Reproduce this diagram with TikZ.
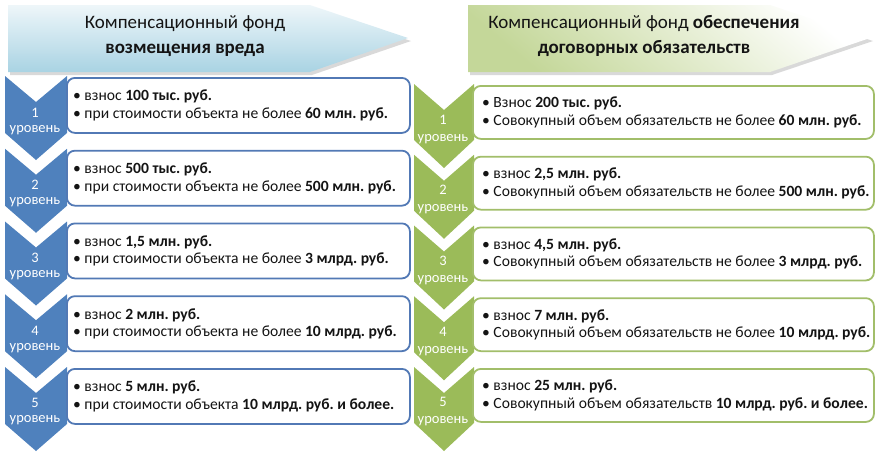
\documentclass[tikz,border=0pt]{standalone}
\usepackage{fontspec}
\setmainfont{Carlito}
\frenchspacing
\definecolor{chevblue}{HTML}{4F81BD}
\definecolor{bordblue}{HTML}{5279B5}
\definecolor{chevgreen}{HTML}{9BBB59}
\definecolor{bordgreen}{HTML}{A2BE6A}
\definecolor{hdrblue}{HTML}{A9D3E3}
\definecolor{hdrgreen}{HTML}{C4D799}
\definecolor{txt}{HTML}{141414}
\begin{document}
\begin{tikzpicture}[x=1pt,y=-1pt,
  lbox/.style={draw=bordblue,line width=1.8pt,fill=white,rounded corners=8pt,
    anchor=north west,minimum height=55pt,minimum width=343pt,inner sep=0pt},
  rbox/.style={draw=bordgreen,line width=1.8pt,fill=white,rounded corners=8pt,
    anchor=north west,minimum height=53pt,minimum width=401pt,inner sep=0pt},
  btext/.style={anchor=west,align=left,inner sep=0pt,font=\fontsize{15.6}{17.5}\selectfont,text=txt},
  lvl/.style={text=white,align=center,inner sep=0pt,font=\fontsize{14.5}{15}\selectfont},
  rlvl/.style={text=white,align=center,inner sep=0pt,font=\fontsize{14.5}{17}\selectfont},
  hdr/.style={align=center,inner sep=0pt,text=txt,font=\fontsize{19}{25}\selectfont}]
\useasboundingbox (0,0) rectangle (876,456);
% headers
\fill[black,opacity=0.15] (10,8) -- (312,8) -- (411,41) -- (312,75) -- (10,75) -- cycle;
\shade[top color=white!80!hdrblue,bottom color=hdrblue]
  (8,5) -- (310,5) -- (408,38) -- (310,72) -- (8,72) -- cycle;
\node[hdr] (h1) at (185,36) {Компенсационный фонд\\\textbf{возмещения вреда}};
\fill[black,opacity=0.15] (470,8) -- (772,8) -- (873,41) -- (772,75) -- (470,75) -- cycle;
\shade[top color=white,bottom color=hdrgreen,shading angle=-40]
  (468,5) -- (770,5) -- (870,38) -- (770,72) -- (468,72) -- cycle;
\node[hdr] (h2) at (644,36) {Компенсационный фонд \textbf{обеспечения}\\\textbf{договорных обязательств}};
% left chevrons
\foreach \i in {1,...,5}{
  \pgfmathsetmacro\T{76+72.75*(\i-1)}
  \fill[chevblue] (5,\T) -- (36,\T+26) -- (67,\T) -- (67,\T+57) -- (36,\T+84) -- (5,\T+57) -- cycle;
  \node[lvl] (lc\i) at (35,\T+45) {\i\\уровень};
}
% right chevrons
\foreach \i in {1,...,5}{
  \pgfmathsetmacro\T{84+70.75*(\i-1)}
  \fill[chevgreen] (414,\T) -- (444,\T+26) -- (474,\T) -- (474,\T+56) -- (444,\T+84) -- (414,\T+56) -- cycle;
  \node[rlvl] (rc\i) at (443,\T+45) {\i\\уровень};
}
% left boxes
\node[lbox] (lb1) at (66,77) {};
\node[lbox] (lb2) at (66,149.75) {};
\node[lbox] (lb3) at (66,222.5) {};
\node[lbox] (lb4) at (66,295.25) {};
\node[lbox] (lb5) at (66,368) {};
\node[btext] (lt1) at ([xshift=7pt]lb1.west) {• взнос \textbf{100 тыс. руб.}\\• при стоимости объекта не более \textbf{60 млн. руб.}};
\node[btext] (lt2) at ([xshift=7pt]lb2.west) {• взнос \textbf{500 тыс. руб.}\\• при стоимости объекта не более \textbf{500 млн. руб.}};
\node[btext] (lt3) at ([xshift=7pt]lb3.west) {• взнос \textbf{1,5 млн. руб.}\\• при стоимости объекта не более \textbf{3 млрд. руб.}};
\node[btext] (lt4) at ([xshift=7pt]lb4.west) {• взнос \textbf{2 млн. руб.}\\• при стоимости объекта не более \textbf{10 млрд. руб.}};
\node[btext] (lt5) at ([xshift=7pt]lb5.west) {• взнос \textbf{5 млн. руб.}\\• при стоимости объекта \textbf{10 млрд. руб. и более.}};
% right boxes
\node[rbox] (rb1) at (472,85) {};
\node[rbox] (rb2) at (472,155.75) {};
\node[rbox] (rb3) at (472,226.5) {};
\node[rbox] (rb4) at (472,297.25) {};
\node[rbox] (rb5) at (472,368) {};
\node[btext] (rt1) at ([xshift=10pt]rb1.west) {• Взнос \textbf{200 тыс. руб.}\\• Совокупный объем обязательств не более \textbf{60 млн. руб.}};
\node[btext] (rt2) at ([xshift=10pt]rb2.west) {• взнос \textbf{2,5 млн. руб.}\\• Совокупный объем обязательств не более \textbf{500 млн. руб.}};
\node[btext] (rt3) at ([xshift=10pt]rb3.west) {• взнос \textbf{4,5 млн. руб.}\\• Совокупный объем обязательств не более \textbf{3 млрд. руб.}};
\node[btext] (rt4) at ([xshift=10pt]rb4.west) {• взнос \textbf{7 млн. руб.}\\• Совокупный объем обязательств не более \textbf{10 млрд. руб.}};
\node[btext] (rt5) at ([xshift=10pt]rb5.west) {• взнос \textbf{25 млн. руб.}\\• Совокупный объем обязательств \textbf{10 млрд. руб. и более.}};
\end{tikzpicture}
\end{document}
